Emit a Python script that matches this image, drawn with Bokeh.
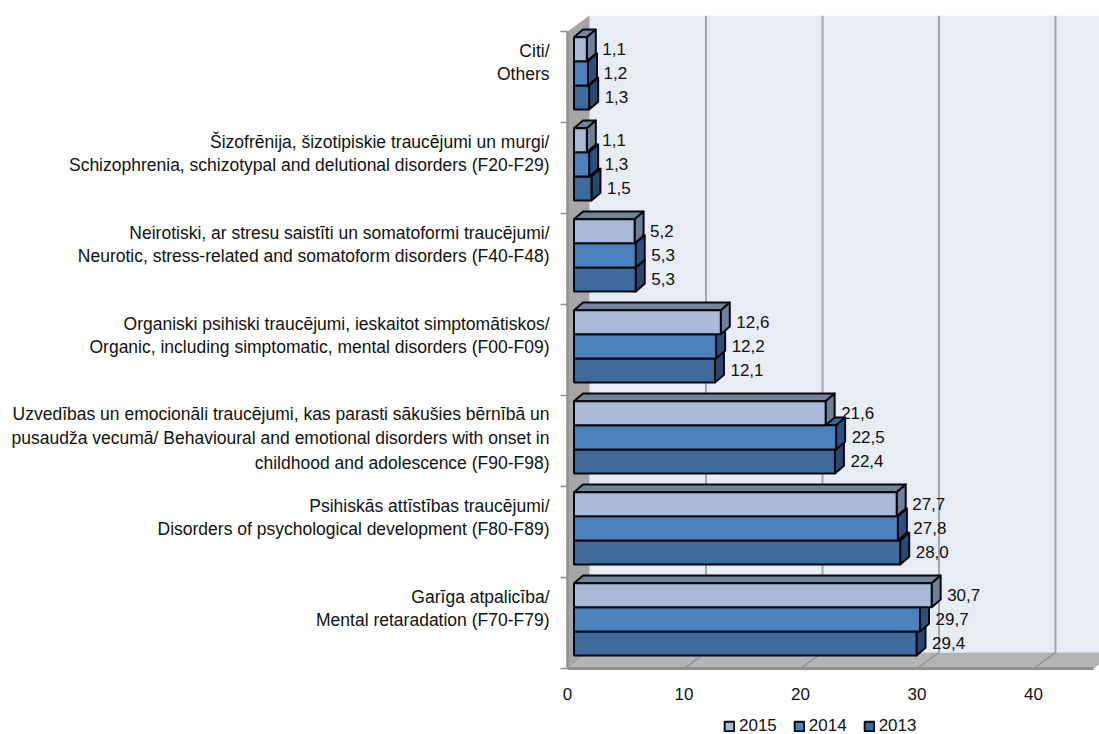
from bokeh.plotting import figure
from bokeh.models import FixedTicker, Legend, LegendItem, Range1d
from bokeh.core.properties import value
from bokeh.embed import file_html
from bokeh.resources import INLINE

categories = [
    "Garīga atpalicība/\nMental retaradation (F70-F79)",
    "Psihiskās attīstības traucējumi/\nDisorders of psychological development (F80-F89)",
    "Uzvedības un emocionāli traucējumi, kas parasti sākušies bērnībā un\npusaudža vecumā/ Behavioural and emotional disorders with onset in\nchildhood and adolescence (F90-F98)",
    "Organiski psihiski traucējumi, ieskaitot simptomātiskos/\nOrganic, including simptomatic, mental disorders (F00-F09)",
    "Neirotiski, ar stresu saistīti un somatoformi traucējumi/\nNeurotic, stress-related and somatoform disorders (F40-F48)",
    "Šizofrēnija, šizotipiskie traucējumi un murgi/\nSchizophrenia, schizotypal and delutional disorders (F20-F29)",
    "Citi/\nOthers",
]
v2015 = [30.7, 27.7, 21.6, 12.6, 5.2, 1.1, 1.1]
v2014 = [29.7, 27.8, 22.5, 12.2, 5.3, 1.3, 1.2]
v2013 = [29.4, 28.0, 22.4, 12.1, 5.3, 1.5, 1.3]
x_ticks = [0, 10, 20, 30, 40]

PX, PY = 11.65, 91.0
FONT = "Liberation Sans"
FS_CAT = "17.5px"
FS_NUM = "17px"
INK = "#111111"
EDGE = "#05080F"
AXIS_GREY = "#8E9092"
wall_dx, wall_dy = 22 / PX, 16 / PY
bar_dx, bar_dy = 9 / PX, 7.7 / PY
bar_x0 = 6.5 / PX
tier_h = 24.1 / PY
tier_base = 13 / PY
axis_end = 45.15
x_start = -9 / PX
x_end = 532 / PX
y_top = 653 / PY
y_bottom = -66 / PY
tick_len = 7 / PX
n = len(categories)

p = figure(width=1099, height=734, output_backend="svg", toolbar_location=None,
           x_range=Range1d(x_start, x_end), y_range=Range1d(y_bottom, y_top),
           min_border_left=558, min_border_right=0, min_border_top=15, min_border_bottom=0,
           outline_line_color=None, background_fill_color="white")
p.grid.visible = False

# walls
p.patch([wall_dx, x_end + 1, x_end + 1, wall_dx], [wall_dy, wall_dy, y_top, y_top],
        fill_color="#E8ECF5", line_color=None)
p.patch([0, wall_dx, wall_dx, 0], [0, wall_dy, y_top, y_top - wall_dy],
        fill_color="#A6A6A6", line_color=None)
p.patch([0, axis_end, axis_end + wall_dx, wall_dx], [0, 0, wall_dy, wall_dy],
        fill_color="#B2B4B6", line_color=None)
p.line([0, axis_end], [0, 0], line_color=AXIS_GREY, line_width=3)
p.line([0, 0], [0, n], line_color=AXIS_GREY, line_width=2.5)
band_edges = list(range(n + 1))
p.segment([-tick_len] * len(band_edges), band_edges, [0] * len(band_edges), band_edges,
          line_color=AXIS_GREY, line_width=1.5)
gx = [v for v in x_ticks if v > 0]
p.segment([v + wall_dx for v in gx], [wall_dy] * len(gx), [v + wall_dx for v in gx], [y_top] * len(gx),
          line_color="#A6A6A6", line_width=2)
p.segment(gx, [0] * len(gx), [v + wall_dx for v in gx], [wall_dy] * len(gx),
          line_color=AXIS_GREY, line_width=1.5)

# bars, lowest tier first so each upper tier covers the top of the one beneath
series = [("2013", v2013, 0, "#3F6A9C", "#38608F", "#2A4770"),
          ("2014", v2014, 1, "#4D81BD", "#3C6AA3", "#2C4F80"),
          ("2015", v2015, 2, "#A9BAD8", "#748397", "#6F7F97")]
legend_rs = {}
for i in range(n):
    for name, vals, tier, front, top, side in series:
        left = bar_x0
        right = bar_x0 + vals[i]
        bottom = i + tier_base + tier * tier_h
        upper = bottom + tier_h
        p.patch([left, right, right + bar_dx, left + bar_dx],
                [upper, upper, upper + bar_dy, upper + bar_dy],
                fill_color=top, line_color=EDGE, line_width=2, line_join="round")
        p.patch([right, right + bar_dx, right + bar_dx, right],
                [bottom, bottom + bar_dy, upper + bar_dy, upper],
                fill_color=side, line_color=EDGE, line_width=2, line_join="round")
        r = p.quad(left=[left], right=[right], bottom=[bottom], top=[upper],
                   fill_color=front, line_color=EDGE, line_width=2)
        legend_rs[name] = r

# data labels
lx, ly, lt = [], [], []
for name, vals, tier, *_ in series:
    for i, v in enumerate(vals):
        lx.append(bar_x0 + v + bar_dx + 6.5 / PX)
        ly.append(i + tier_base + (tier + 0.5) * tier_h)
        lt.append(f"{v:.1f}".replace(".", ","))
p.text(lx, ly, lt, text_font=value(FONT), text_font_size=FS_NUM, text_color=INK,
       text_align="left", text_baseline="middle")

# axes
xa = p.xaxis[0]
xa.fixed_location = 0
xa.ticker = FixedTicker(ticks=x_ticks)
xa.axis_line_color = None
xa.major_tick_line_color = None
xa.minor_tick_line_color = None
xa.major_tick_out = 0
xa.major_tick_in = 0
xa.major_label_standoff = 19
xa.major_label_text_font = FONT
xa.major_label_text_font_size = FS_NUM
xa.major_label_text_color = INK

# one tick per text line of a category, so the line spacing can follow the reference
line_ticks, overrides = [], {}
for i, c in enumerate(categories):
    lines = c.split("\n")
    centre = i + (48 if len(lines) == 3 else 60) / PY
    spacing = (24.5 if len(lines) == 3 else 23.4) / PY
    for k, line in enumerate(lines):
        t = round(centre + ((len(lines) - 1) / 2 - k) * spacing, 4)
        line_ticks.append(t)
        overrides[t] = line

ya = p.yaxis[0]
ya.ticker = FixedTicker(ticks=line_ticks)
ya.major_label_overrides = overrides
ya.axis_line_color = None
ya.minor_tick_line_color = None
ya.major_tick_line_color = None
ya.major_tick_out = 0
ya.major_tick_in = 0
ya.major_label_standoff = 9
ya.major_label_text_font = FONT
ya.major_label_text_font_size = FS_CAT
ya.major_label_text_color = INK

legend = Legend(items=[LegendItem(label=k, renderers=[legend_rs[k]]) for k in ["2015", "2014", "2013"]],
                orientation="horizontal", location=(165, -2),
                border_line_color=None, background_fill_alpha=0, padding=0, margin=0,
                spacing=16, label_standoff=4, glyph_width=12, glyph_height=12,
                label_text_font=FONT, label_text_font_size=FS_NUM, label_text_color=INK)
p.add_layout(legend, "center")

open("out.html", "w").write(file_html(p, INLINE))
